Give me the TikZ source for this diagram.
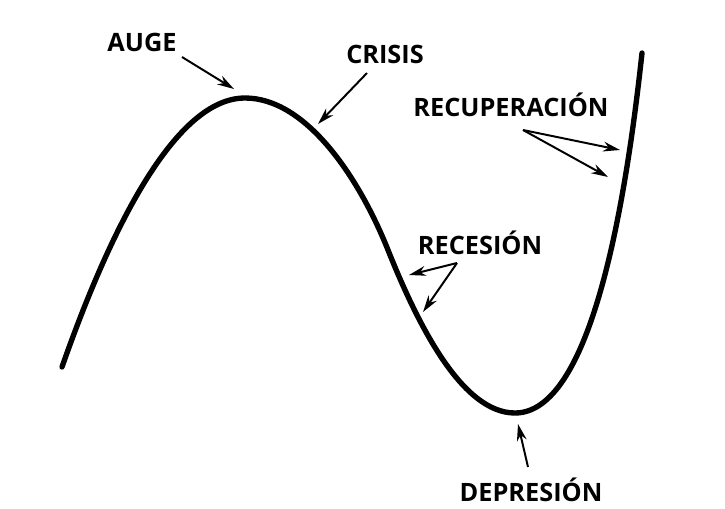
\documentclass[tikz,border=0pt]{standalone}
\usepackage{fontspec}
\setmainfont{Open Sans}
\usetikzlibrary{arrows.meta}

\tikzset{
  fase/.style={font=\bfseries\fontsize{18}{20}\selectfont, inner sep=1pt},
  flecha/.style={line width=1.4pt, -{Stealth[length=12pt, width=7pt]}},
  ciclo/.style={line width=3.8pt, line cap=round}
}

\begin{document}
\begin{tikzpicture}[x=0.025cm, y=-0.025cm]
        \useasboundingbox (0,0) rectangle (725,508);
        % puntos de la curva
        \coordinate (ini) at (62,367);
        \coordinate (cima) at (245,98);
        \coordinate (medio) at (388,250);
        \coordinate (fondo) at (515,413);
        \coordinate (fin) at (642,53);
        \draw[ciclo] (ini) .. controls (110,230) and (175,98) .. (cima)
            .. controls (305,98) and (358,175) .. (medio)
            .. controls (418,325) and (462,413) .. (fondo)
            .. controls (590,413) and (625,210) .. (fin);
        % rotulos
        \node[fase] (auge) at (142,42) {AUGE};
        \node[fase] (crisis) at (385,54) {CRISIS};
        \node[fase] (recup) at (511,105) {RECUPERACIÓN};
        \node[fase] (reces) at (480,243) {RECESIÓN};
        \node[fase] (depre) at (531,490) {DEPRESIÓN};
        % flechas
        \coordinate (a1) at (182,57);
        \coordinate (a2) at (234,89);
        \coordinate (c1) at (367,73);
        \coordinate (c2) at (318,124);
        \coordinate (r0) at (523,130);
        \coordinate (r1) at (620,150);
        \coordinate (r2) at (608,177);
        \coordinate (s0) at (457,263);
        \coordinate (s1) at (409,275);
        \coordinate (s2) at (423,312);
        \coordinate (d1) at (528,467);
        \coordinate (d2) at (518,424);
        \draw[flecha] (a1)--(a2);
        \draw[flecha] (c1)--(c2);
        \draw[flecha] (r0)--(r1);
        \draw[flecha] (r0)--(r2);
        \draw[flecha] (s0)--(s1);
        \draw[flecha] (s0)--(s2);
        \draw[flecha] (d1)--(d2);
    \end{tikzpicture}
\end{document}
